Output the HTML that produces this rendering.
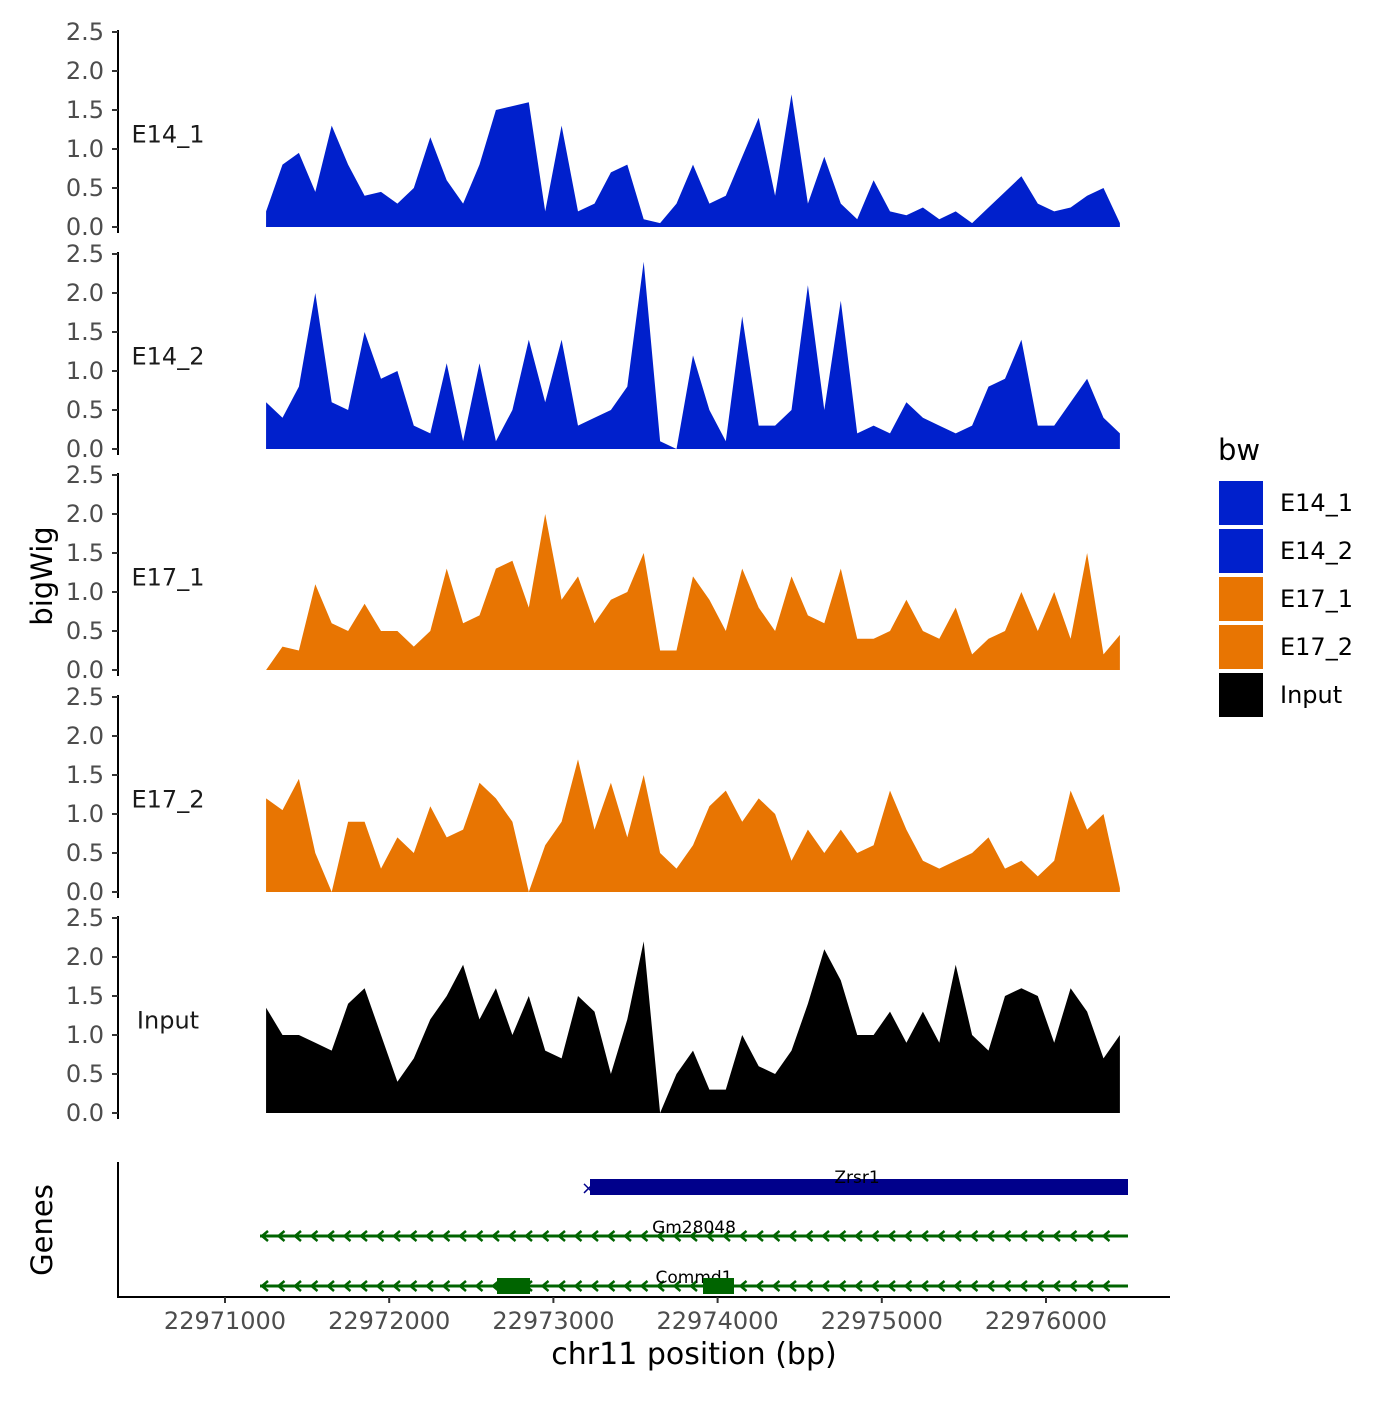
<!DOCTYPE html>
<html><head><meta charset="utf-8"><style>
body{margin:0;background:#fff}
svg text{font-family:"DejaVu Sans","Liberation Sans",sans-serif}
</style></head><body>
<svg id="chart" width="1400" height="1400" xmlns="http://www.w3.org/2000/svg">
<g id="panels"></g>
<text transform="translate(52,576) rotate(-90)" text-anchor="middle" font-size="29">bigWig</text>
<text transform="translate(52,1230) rotate(-90)" text-anchor="middle" font-size="29">Genes</text>
<g id="genes"></g>
<g id="xaxis"></g>
<text x="694" y="1364" text-anchor="middle" font-size="30">chr11 position (bp)</text>
<g id="legend"></g>
</svg>
<script>
const sampleNames = ["E14_1","E14_2","E17_1","E17_2","Input"];
const sampleColors = ["#0020CC","#0020CC","#E87502","#E87502","#000000"];
const startBp = 22971250;
const stepBp = 100;
const e14_1 = [0.2,0.8,0.95,0.45,1.3,0.8,0.4,0.45,0.3,0.5,1.15,0.6,0.3,0.8,1.5,1.55,1.6,0.2,1.3,0.2,0.3,0.7,0.8,0.1,0.05,0.3,0.8,0.3,0.4,0.9,1.4,0.4,1.7,0.3,0.9,0.3,0.1,0.6,0.2,0.15,0.25,0.1,0.2,0.05,0.25,0.45,0.65,0.3,0.2,0.25,0.4,0.5,0.05];
const e14_2 = [0.6,0.4,0.8,2.0,0.6,0.5,1.5,0.9,1.0,0.3,0.2,1.1,0.1,1.1,0.1,0.5,1.4,0.6,1.4,0.3,0.4,0.5,0.8,2.4,0.1,0,1.2,0.5,0.1,1.7,0.3,0.3,0.5,2.1,0.5,1.9,0.2,0.3,0.2,0.6,0.4,0.3,0.2,0.3,0.8,0.9,1.4,0.3,0.3,0.6,0.9,0.4,0.2];
const e17_1 = [0,0.3,0.25,1.1,0.6,0.5,0.85,0.5,0.5,0.3,0.5,1.3,0.6,0.7,1.3,1.4,0.8,2.0,0.9,1.2,0.6,0.9,1.0,1.5,0.25,0.25,1.2,0.9,0.5,1.3,0.8,0.5,1.2,0.7,0.6,1.3,0.4,0.4,0.5,0.9,0.5,0.4,0.8,0.2,0.4,0.5,1.0,0.5,1.0,0.4,1.5,0.2,0.45];
const e17_2 = [1.2,1.05,1.45,0.5,0,0.9,0.9,0.3,0.7,0.5,1.1,0.7,0.8,1.4,1.2,0.9,0,0.6,0.9,1.7,0.8,1.4,0.7,1.5,0.5,0.3,0.6,1.1,1.3,0.9,1.2,1.0,0.4,0.8,0.5,0.8,0.5,0.6,1.3,0.8,0.4,0.3,0.4,0.5,0.7,0.3,0.4,0.2,0.4,1.3,0.8,1.0,0.05];
const input = [1.35,1.0,1.0,0.9,0.8,1.4,1.6,1.0,0.4,0.7,1.2,1.5,1.9,1.2,1.6,1.0,1.5,0.8,0.7,1.5,1.3,0.5,1.2,2.2,0.0,0.5,0.8,0.3,0.3,1.0,0.6,0.5,0.8,1.4,2.1,1.7,1.0,1.0,1.3,0.9,1.3,0.9,1.9,1.0,0.8,1.5,1.6,1.5,0.9,1.6,1.3,0.7,1.0];
const yTicks = [0,0.5,1.0,1.5,2.0,2.5];
const xTicks = [22971000,22972000,22973000,22974000,22975000,22976000];
const allSeries = [e14_1,e14_2,e17_1,e17_2,input];

const NS="http://www.w3.org/2000/svg";
function mk(tag,attrs,parent){const e=document.createElementNS(NS,tag);for(const k in attrs)e.setAttribute(k,attrs[k]);parent.appendChild(e);return e;}
function xScale(bp){return 225+(bp-22971000)*0.1642;}
const panelZero=[227,449,670,892,1113];
function yScale(v,p){return panelZero[p]-v*78;}

const panels=document.getElementById('panels');
allSeries.forEach((s,p)=>{
  const g=mk('g',{},panels);
  
  
  let d='M'+xScale(startBp)+','+yScale(0,p);
  s.forEach((v,i)=>{d+=' L'+xScale(startBp+i*stepBp).toFixed(1)+','+yScale(v,p).toFixed(1);});
  d+=' L'+xScale(startBp+(s.length-1)*stepBp).toFixed(1)+','+yScale(0,p)+' Z';
  const a=mk('path',{d:d,fill:sampleColors[p]},g);
  
  
  const ax=mk('line',{x1:118,x2:118,y1:yScale(2.5,p)-2,y2:yScale(0,p)+6,stroke:'#000','stroke-width':2},g);
  
  
  yTicks.forEach(t=>{
    const y=yScale(t,p);
    mk('line',{x1:112,x2:118,y1:y,y2:y,stroke:'#333','stroke-width':2},g);
    const tx=mk('text',{x:104,y:y+8,'text-anchor':'end','font-size':24,fill:'#4d4d4d'},g);
    tx.textContent=t.toFixed(1);
    
    
  });
  const lb=mk('text',{x:168,y:yScale(1.2,p)+9,'text-anchor':'middle','font-size':24,fill:'#1a1a1a'},g);
  lb.textContent=sampleNames[p];
  
  
});

// genes
const gg=document.getElementById('genes');
mk('line',{x1:118,x2:118,y1:1162,y2:1298,stroke:'#000','stroke-width':2},gg);
const zr=mk('rect',{x:590,y:1179,width:538,height:16,fill:'#00008B'},gg);


mk('text',{x:581,y:1194,'font-size':18,fill:'#00008B'},gg).textContent='×';
let t=mk('text',{x:857,y:1183,'text-anchor':'middle','font-size':17},gg);t.textContent='Zrsr1';


[[1236,'Gm28048',1229],[1286,'Commd1',1279]].forEach(([y,name,ly])=>{
  const l=mk('line',{x1:260,x2:1128,y1:y,y2:y,stroke:'#006400','stroke-width':3},gg);
  
  
  let d='';
  for(let x=262;x<1120;x+=16.5){d+='M'+(x+6)+','+(y-5)+' L'+x+','+y+' L'+(x+6)+','+(y+5)+' ';}
  mk('path',{d:d,stroke:'#006400','stroke-width':2.5,fill:'none'},gg);
  const tl=mk('text',{x:694,y:ly+4,'text-anchor':'middle','font-size':17},gg);tl.textContent=name;
  
  
});
[[497,530],[703,734]].forEach(([a,b])=>{
  const r=mk('rect',{x:a,y:1278,width:b-a,height:16,fill:'#006400'},gg);
  
  
});

// x axis
const xa=document.getElementById('xaxis');
mk('line',{x1:118,x2:1170,y1:1297,y2:1297,stroke:'#000','stroke-width':2},xa);
xTicks.forEach(v=>{
  const x=xScale(v);
  mk('line',{x1:x,x2:x,y1:1297,y2:1303,stroke:'#333','stroke-width':2},xa);
  const tx=mk('text',{x:x,y:1329,'text-anchor':'middle','font-size':24,fill:'#4d4d4d'},xa);
  tx.textContent=v;
  
  
});

// legend
const lg=document.getElementById('legend');
mk('text',{x:1218,y:460,'font-size':29},lg).textContent='bw';
sampleNames.forEach((n,i)=>{
  const y=480+i*48;
  const k=mk('rect',{x:1218,y:y,width:46,height:46,fill:sampleColors[i],stroke:'#fff','stroke-width':2},lg);
  
  
  const tx=mk('text',{x:1280,y:y+31,'font-size':24},lg);tx.textContent=n;
  
  
});
</script>
</body></html>
